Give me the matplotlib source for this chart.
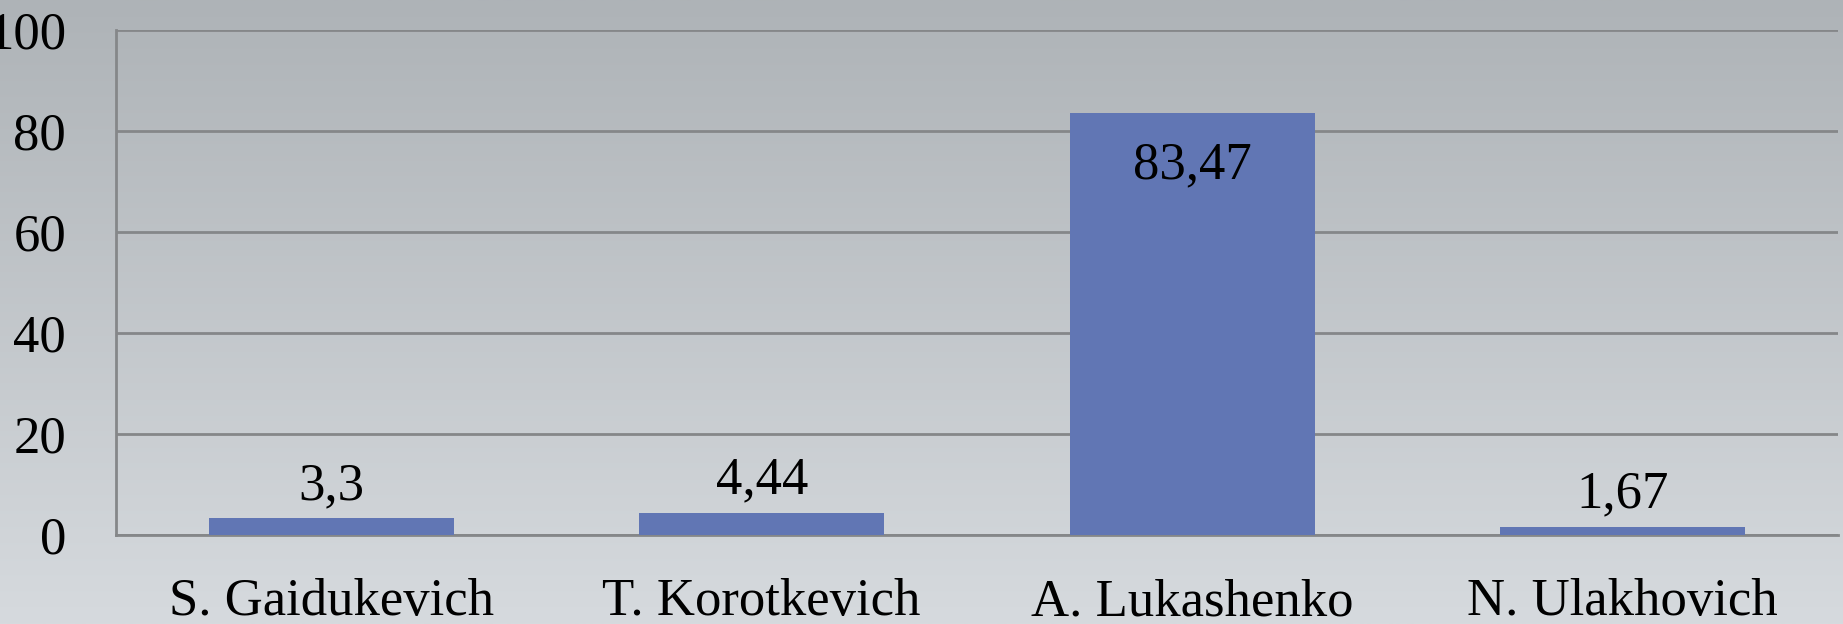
import numpy as np
import matplotlib.pyplot as plt

# data
candidates = ['S. Gaidukevich', 'T. Korotkevich', 'A. Lukashenko', 'N. Ulakhovich']
votes = [3.3, 4.44, 83.47, 1.67]
vote_labels = ['3,3', '4,44', '83,47', '1,67']
y_ticks = [0, 20, 40, 60, 80, 100]

bar_color = '#6176b4'
grid_color = '#858789'
font = 'Liberation Serif'
fsize = 38

fig = plt.figure(figsize=(18.43, 6.24), dpi=100)

# gradient background
bg = fig.add_axes([0, 0, 1, 1], zorder=-2)
top = np.array([174, 179, 183]) / 255
bottom = np.array([214, 218, 222]) / 255
t = np.linspace(0, 1, 256)[:, None, None]
grad = top * (1 - t) + bottom * t
grad = np.repeat(grad, 2, axis=1)
bg.imshow(grad, aspect='auto', extent=[0, 1, 0, 1])
bg.axis('off')

# axes area: x 116..1838, y 30..535 (pixels from top)
ax = fig.add_axes([116 / 1843, 1 - 535 / 624, (1838 - 116) / 1843, (535 - 30) / 624])
ax.patch.set_alpha(0)

x = np.arange(len(candidates))
bars = ax.bar(x, votes, width=0.57, color=bar_color, zorder=3)

ax.set_xlim(-0.5, len(candidates) - 0.5)
ax.set_ylim(0, 100)
ax.set_yticks(y_ticks)
ax.set_yticklabels([str(v) for v in y_ticks], fontsize=fsize, family=font)
ax.set_xticks(x)
ax.set_xticklabels(candidates, fontsize=fsize, family=font)
ax.tick_params(axis='y', length=0, pad=36)
ax.tick_params(axis='x', length=0, pad=31)

ax.yaxis.grid(True, color=grid_color, linewidth=2, zorder=1)
for s in ['top', 'right']:
    ax.spines[s].set_visible(False)
ax.spines['left'].set_color(grid_color)
ax.spines['left'].set_linewidth(2)
ax.spines['bottom'].set_color(grid_color)
ax.spines['bottom'].set_linewidth(2)

for b, v, lab in zip(bars, votes, vote_labels):
    cx = b.get_x() + b.get_width() / 2
    if v > 50:
        ax.annotate(lab, (cx, v), xytext=(0, -20), textcoords='offset points',
                    ha='center', va='top', fontsize=fsize, family=font)
    else:
        ax.annotate(lab, (cx, v), xytext=(0, 6), textcoords='offset points',
                    ha='center', va='bottom', fontsize=fsize, family=font)

fig.savefig('out.png', dpi=100)
